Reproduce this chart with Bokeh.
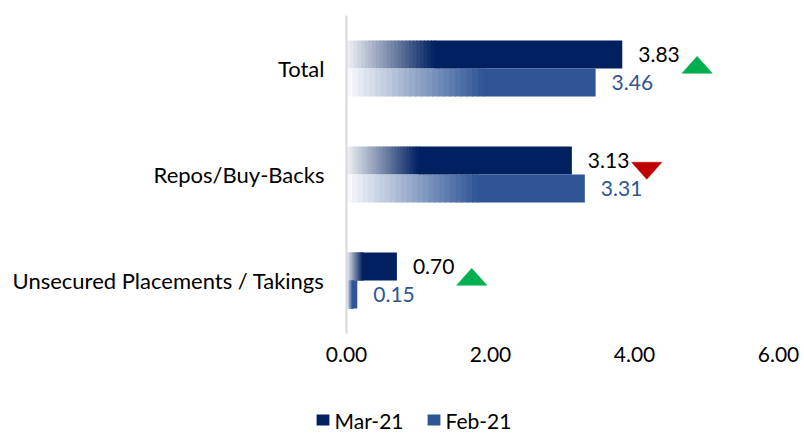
from bokeh.plotting import figure
from bokeh.layouts import column
from bokeh.models import (Range1d, FixedTicker, NumeralTickFormatter, Legend,
                          LegendItem, ColumnDataSource)
from bokeh.core.properties import value
from bokeh.embed import file_html
from bokeh.resources import INLINE

# ---- data ----
categories = ["Total", "Repos/Buy-Backs", "Unsecured Placements / Takings"]
mar21 = [3.83, 3.13, 0.70]
feb21 = [3.46, 3.31, 0.15]
series_names = ["Mar-21", "Feb-21"]
x_ticks = [0, 2, 4, 6]

# ---- style ----
MAR_COLOR = "#002060"
FEB_COLOR = "#2F5597"
UP_COLOR = "#00B050"
DOWN_COLOR = "#C00000"
FONT = "Lato"
FS = "22px"
NUM_FS = "21px"
BAR_H = 0.265
N_STEPS = 24
OVERLAP = 0.015

n_cat = len(categories)
ypos = {c: n_cat - 1 - i for i, c in enumerate(categories)}  # top to bottom


def blend(hx, a):
    r, g, b = int(hx[1:3], 16), int(hx[3:5], 16), int(hx[5:7], 16)
    return "#%02x%02x%02x" % (round(255 + (r - 255) * a),
                              round(255 + (g - 255) * a),
                              round(255 + (b - 255) * a))


def bar_sources(vals, color, frac, dy, a0):
    g = dict(y=[], left=[], right=[], color=[])
    s = dict(y=[], left=[], right=[])
    for c, v in zip(categories, vals):
        y = ypos[c] + dy
        for k in range(N_STEPS):
            a = a0 + (1 - a0) * (k + 0.5) / N_STEPS
            g["y"].append(y)
            g["left"].append(v * frac * k / N_STEPS)
            g["right"].append(v * frac * (k + 1) / N_STEPS + OVERLAP)
            g["color"].append(blend(color, a))
        s["y"].append(y)
        s["left"].append(v * frac)
        s["right"].append(v)
    return ColumnDataSource(g), ColumnDataSource(s)


p = figure(width=804, height=380,
           x_range=Range1d(0, 6), y_range=Range1d(-0.5, n_cat - 0.5),
           output_backend="svg", toolbar_location=None,
           min_border_left=346, min_border_right=26,
           min_border_top=15, min_border_bottom=47)
p.frame_align = False
p.outline_line_color = None
p.xgrid.grid_line_color = None
p.ygrid.grid_line_color = None

mar_off = BAR_H / 2
feb_off = -BAR_H / 2

mg, ms = bar_sources(mar21, MAR_COLOR, 0.32, mar_off, 0.06)
fg, fs = bar_sources(feb21, FEB_COLOR, 0.55, feb_off, 0.02)

for g in (mg, fg):
    p.hbar(y="y", left="left", right="right", height=BAR_H, source=g,
           fill_color="color", line_color=None)
p.hbar(y="y", left="left", right="right", height=BAR_H, source=ms,
       fill_color=MAR_COLOR, line_color=None)
p.hbar(y="y", left="left", right="right", height=BAR_H, source=fs,
       fill_color=FEB_COLOR, line_color=None)

# data labels
lab_m = ColumnDataSource(dict(x=mar21, y=[ypos[c] + mar_off for c in categories],
                              t=["%.2f" % v for v in mar21]))
lab_f = ColumnDataSource(dict(x=feb21, y=[ypos[c] + feb_off for c in categories],
                              t=["%.2f" % v for v in feb21]))
for src, col in ((lab_m, "#000000"), (lab_f, FEB_COLOR)):
    p.text(x="x", y="y", text="t", source=src, x_offset=16,
           text_baseline="middle", text_align="left",
           text_font=value(FONT), text_font_size=NUM_FS, text_color=col)

# change triangles (direction derived from Mar vs Feb)
TRI_DX = 1.04
TRI_W = 0.42
TRI_H = 0.16
TRI_DY = 0.035
xs, ys, cols = [], [], []
for c, m, f in zip(categories, mar21, feb21):
    cx = m + TRI_DX
    cy = ypos[c] + TRI_DY
    xs.append([cx - TRI_W / 2, cx + TRI_W / 2, cx])
    if m >= f:
        ys.append([cy - TRI_H / 2, cy - TRI_H / 2, cy + TRI_H / 2])
        cols.append(UP_COLOR)
    else:
        ys.append([cy + TRI_H / 2, cy + TRI_H / 2, cy - TRI_H / 2])
        cols.append(DOWN_COLOR)
p.patches(xs="xs", ys="ys", source=ColumnDataSource(dict(xs=xs, ys=ys, c=cols)),
          fill_color="c", line_color="c", line_width=0.5)

# axes
p.xaxis.ticker = FixedTicker(ticks=x_ticks)
p.xaxis.formatter = NumeralTickFormatter(format="0.00")
p.xaxis.axis_line_color = None
p.xaxis.major_tick_line_color = None
p.xaxis.minor_tick_line_color = None
p.xaxis.major_tick_out = 0
p.xaxis.major_tick_in = 0
p.xaxis.major_label_standoff = 13
p.xaxis.major_label_text_font = FONT
p.xaxis.major_label_text_font_size = NUM_FS
p.xaxis.major_label_text_color = "#000000"

p.yaxis.ticker = FixedTicker(ticks=[ypos[c] for c in categories])
p.yaxis.major_label_overrides = {ypos[c]: c for c in categories}
p.yaxis.axis_line_color = "#D9D9D9"
p.yaxis.axis_line_width = 2
p.yaxis.major_tick_line_color = None
p.yaxis.minor_tick_line_color = None
p.yaxis.major_tick_out = 0
p.yaxis.major_tick_in = 0
p.yaxis.major_label_standoff = 22
p.yaxis.major_label_text_font = FONT
p.yaxis.major_label_text_font_size = FS
p.yaxis.major_label_text_color = "#000000"

# ---- legend strip ----
lg = figure(width=804, height=53, x_range=Range1d(0, 1), y_range=Range1d(0, 1),
            output_backend="svg", toolbar_location=None,
            x_axis_location=None, y_axis_location=None,
            min_border_left=22, min_border_right=0,
            min_border_top=26, min_border_bottom=0)
lg.frame_align = False
lg.outline_line_color = None
lg.xgrid.grid_line_color = None
lg.ygrid.grid_line_color = None
offscreen = dict(y=[-5], left=[-5], right=[-4])
r_mar = lg.hbar(y="y", left="left", right="right", height=0.5,
                source=ColumnDataSource(offscreen), fill_color=MAR_COLOR, line_color=None)
r_feb = lg.hbar(y="y", left="left", right="right", height=0.5,
                source=ColumnDataSource(offscreen), fill_color=FEB_COLOR, line_color=None)
legend = Legend(items=[LegendItem(label=series_names[0], renderers=[r_mar]),
                       LegendItem(label=series_names[1], renderers=[r_feb])],
                orientation="horizontal", location="center",
                glyph_width=16, glyph_height=14, label_standoff=4, spacing=22,
                padding=0, margin=0, border_line_color=None,
                background_fill_alpha=0,
                label_text_font=FONT, label_text_font_size=NUM_FS,
                label_text_color="#000000")
lg.add_layout(legend, "center")

open("out.html", "w").write(file_html(column(p, lg, spacing=0), INLINE))
